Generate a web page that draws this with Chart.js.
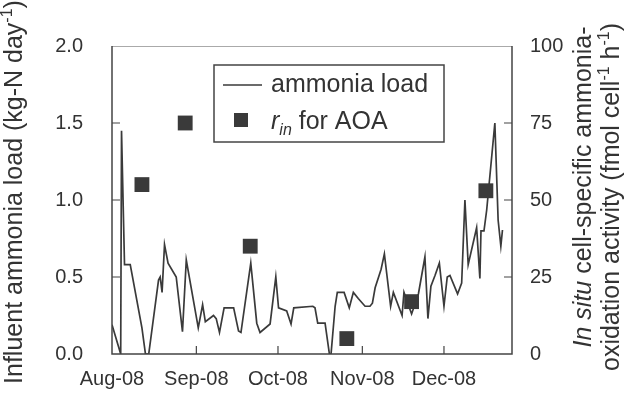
<!DOCTYPE html>
<html>
<head>
<meta charset="utf-8">
<script src="https://cdn.jsdelivr.net/npm/chart.js@4.4.1/dist/chart.umd.min.js"></script>
<style>
  body { margin: 0; background: #fff; }
  canvas { display: block; }
</style>
</head>
<body>
<canvas id="chart" width="625" height="402"></canvas>
<script>
// influent ammonia load, days counted from 1 Aug 2008
const loadDays = [0, 3.2, 3.5, 4.6, 6.7, 11.0, 12.3, 13.5, 17.1, 17.7, 18.4, 19.3, 20.6, 23.6, 25.9, 27.3,
  31.7, 33.3, 34.3, 37.3, 38.3, 39.5, 41.2, 44.7, 46.5, 47.4, 51.0, 53.2, 54.4, 58.1, 60.2, 61.2,
  64.2, 65.8, 66.8, 73.8, 74.6, 75.6, 78.3, 79.9, 80.5, 82.0, 82.8, 85.3, 87.2, 88.7, 90.5, 93.0,
  94.8, 95.7, 96.7, 98.9, 100.1, 102.4, 103.4, 106.6, 107.3, 110.1, 112.6, 115.0, 116.1, 117.2,
  118.7, 120.3, 122.0, 123.2, 124.2, 127.0, 128.5, 129.7, 130.9, 134.0, 135.2, 135.6, 136.7,
  137.7, 140.7, 141.9, 142.9, 143.5];
const loadValues = [0.19, 0.0, 1.45, 0.58, 0.58, 0.17, 0.0, 0.0, 0.48, 0.50, 0.40, 0.71, 0.59, 0.50, 0.145, 0.61,
  0.17, 0.32, 0.21, 0.25, 0.23, 0.14, 0.30, 0.30, 0.15, 0.14, 0.59, 0.20, 0.14, 0.195, 0.50, 0.30,
  0.28, 0.195, 0.30, 0.31, 0.30, 0.20, 0.20, 0.0, 0.0, 0.31, 0.40, 0.40, 0.30, 0.40, 0.36, 0.31,
  0.31, 0.33, 0.43, 0.55, 0.65, 0.31, 0.40, 0.25, 0.40, 0.26, 0.39, 0.63, 0.23, 0.44,
  0.51, 0.59, 0.31, 0.50, 0.51, 0.39, 0.46, 1.00, 0.58, 0.82, 0.49, 0.80, 0.80,
  0.935, 1.50, 0.87, 0.70, 0.805];

// r_in for AOA (fmol cell-1 h-1)
const rinDays = [11.0, 26.9, 50.8, 86.3, 110.1, 137.4];
const rinValues = [55, 75, 35, 5, 17, 53];

const monthTicks = [0, 31, 61, 92, 122];
const monthLabels = ['Aug-08', 'Sep-08', 'Oct-08', 'Nov-08', 'Dec-08'];

const ink = '#333';
const markColor = '#3a3a3a';
const FONT = 'Liberation Sans, Arial, sans-serif';
const tickFont = { family: FONT, size: 20 };
const titleSize = 25;

// draw a string made of runs (italic / superscript / subscript), centred on 0,0
function drawRuns(ctx, runs, size) {
  const fontOf = r => (r.italic ? 'italic ' : '') + Math.round(r.sup || r.sub ? size * 0.62 : size) + 'px ' + FONT;
  let total = 0;
  runs.forEach(r => { ctx.font = fontOf(r); total += ctx.measureText(r.t).width; });
  let x = -total / 2;
  ctx.textBaseline = 'alphabetic';
  ctx.textAlign = 'left';
  runs.forEach(r => {
    ctx.font = fontOf(r);
    let dy = size * 0.36;
    if (r.sup) dy -= size * 0.42;
    if (r.sub) dy += size * 0.22;
    ctx.fillText(r.t, x, dy);
    x += ctx.measureText(r.t).width;
  });
  return total;
}

function drawText(ctx, runs, x, y, size, rotate) {
  ctx.save();
  ctx.translate(x, y);
  if (rotate) ctx.rotate(-Math.PI / 2);
  drawRuns(ctx, runs, size);
  ctx.restore();
}

const framePlugin = {
  id: 'frame',
  afterDatasetsDraw(chart) {
    const { ctx, chartArea: a, scales } = chart;
    ctx.save();
    // frame
    ctx.strokeStyle = '#aaa';
    ctx.lineWidth = 1;
    ctx.beginPath();
    ctx.moveTo(a.left, a.top + 0.5);
    ctx.lineTo(a.right, a.top + 0.5);
    ctx.stroke();
    ctx.strokeStyle = '#444';
    ctx.lineWidth = 1.5;
    ctx.beginPath();
    ctx.moveTo(a.left, a.top);
    ctx.lineTo(a.left, a.bottom);
    ctx.lineTo(a.right, a.bottom);
    ctx.lineTo(a.right, a.top);
    ctx.stroke();

    // inward tick marks
    const len = 8;
    ctx.lineWidth = 1.2;
    ctx.beginPath();
    scales.y.ticks.forEach(t => {
      if (t.value <= scales.y.min || t.value >= scales.y.max) return;
      const py = scales.y.getPixelForValue(t.value);
      ctx.moveTo(a.left, py); ctx.lineTo(a.left + len, py);
    });
    scales.y2.ticks.forEach(t => {
      if (t.value <= scales.y2.min || t.value >= scales.y2.max) return;
      const py = scales.y2.getPixelForValue(t.value);
      ctx.moveTo(a.right, py); ctx.lineTo(a.right - len, py);
    });
    scales.x.ticks.forEach(t => {
      if (t.value <= scales.x.min || t.value >= scales.x.max) return;
      const px = scales.x.getPixelForValue(t.value);
      ctx.moveTo(px, a.bottom); ctx.lineTo(px, a.bottom - len);
    });
    ctx.stroke();

    // legend
    ctx.fillStyle = '#fff';
    ctx.fillRect(214, 65, 230, 77);
    ctx.strokeStyle = '#444';
    ctx.lineWidth = 1.5;
    ctx.strokeRect(214, 65, 230, 77);
    ctx.strokeStyle = markColor;
    ctx.lineWidth = 1.6;
    ctx.beginPath();
    ctx.moveTo(223, 85); ctx.lineTo(262, 85);
    ctx.stroke();
    ctx.fillStyle = markColor;
    ctx.fillRect(234, 113, 14, 14);
    ctx.fillStyle = ink;
    ctx.save();
    ctx.translate(271, 85);
    ctx.font = titleSize + 'px ' + FONT;
    ctx.textBaseline = 'middle';
    ctx.fillText('ammonia load', 0, 0);
    ctx.restore();
    ctx.save();
    ctx.translate(271, 120);
    const runs = [{ t: 'r', italic: true }, { t: 'in', italic: true, sub: true }, { t: ' for AOA' }];
    let w = 0;
    runs.forEach(r => {
      ctx.font = (r.italic ? 'italic ' : '') + Math.round(r.sub ? titleSize * 0.62 : titleSize) + 'px ' + FONT;
      w += ctx.measureText(r.t).width;
    });
    ctx.translate(w / 2, 0);
    drawRuns(ctx, runs, titleSize);
    ctx.restore();

    // axis titles
    drawText(ctx, [{ t: 'Influent ammonia load (kg-N day' }, { t: '-1', sup: true }, { t: ')' }], 13, 192, titleSize, true);
    drawText(ctx, [{ t: 'In situ', italic: true }, { t: ' cell-specific ammonia-' }], 582, 187, titleSize, true);
    drawText(ctx, [{ t: 'oxidation activity (fmol cell' }, { t: '-1', sup: true }, { t: ' h' }, { t: '-1', sup: true }, { t: ')' }], 610, 197, titleSize, true);
    ctx.restore();
  }
};

new Chart(document.getElementById('chart'), {
  type: 'line',
  data: {
    datasets: [{
      type: 'scatter',
      label: 'rin for AOA',
      data: rinDays.map((d, i) => ({ x: d, y: rinValues[i] })),
      yAxisID: 'y2',
      pointStyle: 'rect',
      pointRadius: 10.5,
      backgroundColor: markColor,
      borderWidth: 0
    }, {
      label: 'ammonia load',
      data: loadDays.map((d, i) => ({ x: d, y: loadValues[i] })),
      yAxisID: 'y',
      borderColor: markColor,
      borderWidth: 1.7,
      pointRadius: 0,
      tension: 0
    }]
  },
  options: {
    responsive: false,
    animation: false,
    devicePixelRatio: 1,
    layout: { padding: { top: 46, left: 0, right: 0, bottom: 0 } },
    plugins: { legend: { display: false }, tooltip: { enabled: false } },
    scales: {
      x: {
        type: 'linear',
        min: 0,
        max: 147,
        grid: { display: false, drawTicks: false },
        border: { display: false },
        afterBuildTicks: scale => { scale.ticks = monthTicks.map(v => ({ value: v })); },
        afterFit: scale => { scale.height = 48; },
        ticks: {
          font: tickFont,
          color: ink,
          padding: 13,
          maxRotation: 0,
          callback: v => monthLabels[monthTicks.indexOf(v)]
        }
      },
      y: {
        position: 'left',
        min: 0,
        max: 2,
        grid: { display: false, drawTicks: false },
        border: { display: false },
        afterFit: scale => { scale.width = 112; },
        ticks: { stepSize: 0.5, font: tickFont, color: ink, padding: 29, callback: v => v.toFixed(1) }
      },
      y2: {
        position: 'right',
        min: 0,
        max: 100,
        grid: { display: false, drawTicks: false },
        border: { display: false },
        afterFit: scale => { scale.width = 113; },
        ticks: { stepSize: 25, font: tickFont, color: ink, padding: 18 }
      }
    }
  },
  plugins: [framePlugin]
});
</script>
</body>
</html>
